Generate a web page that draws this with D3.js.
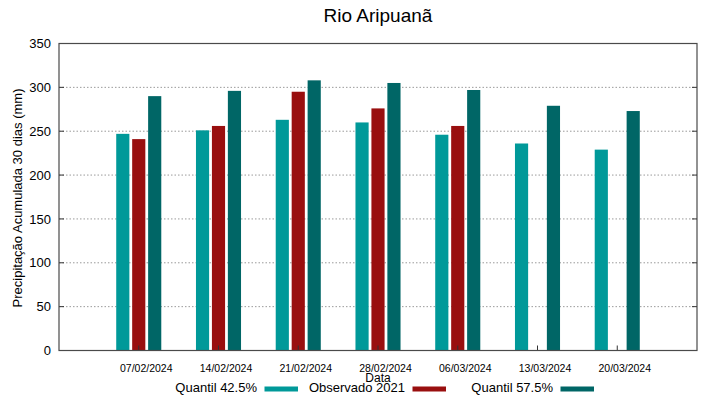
<!DOCTYPE html>
<html>
<head>
<meta charset="utf-8">
<script src="https://cdn.jsdelivr.net/npm/d3@7"></script>
<style>
  body { margin: 0; background: #fff; }
  text { font-family: "Liberation Sans", Arial, sans-serif; fill: #000; }
</style>
</head>
<body>
<div id="chart"></div>
<script>
// data
var dates = ["07/02/2024", "14/02/2024", "21/02/2024", "28/02/2024", "06/03/2024", "13/03/2024", "20/03/2024"];
var quantil425 = [247, 251, 263, 260, 246, 236, 229];
var observado2021 = [241, 256, 295, 276, 256, null, null];
var quantil575 = [290, 296, 308, 305, 297, 279, 273];
var yTicks = [0, 50, 100, 150, 200, 250, 300, 350];
var seriesNames = ["Quantil 42.5%", "Observado 2021", "Quantil 57.5%"];
var seriesColors = ["#009999", "#990f0f", "#006666"];

// dimensions of the plot area
var margin = {top: 43.5, right: 22, bottom: 48.5, left: 59},
    width = 719 - margin.left - margin.right,
    height = 399 - margin.top - margin.bottom;

var svg = d3.select("#chart")
  .append("svg")
    .attr("width", 719)
    .attr("height", 399)
  .append("g")
    .attr("transform", "translate(" + margin.left + "," + margin.top + ")");

// scales
var x = d3.scaleLinear()
  .domain([0, dates.length + 1])
  .range([0, width]);

var y = d3.scaleLinear()
  .domain([0, 350])
  .range([height, 0]);

// dotted grid lines
svg.append("g")
  .selectAll("line")
  .data(yTicks.slice(1, -1))
  .enter()
  .append("line")
    .attr("x1", 0)
    .attr("x2", width)
    .attr("y1", function(d) { return y(d); })
    .attr("y2", function(d) { return y(d); })
    .style("stroke", "#9a9a9a")
    .style("stroke-width", 1)
    .style("stroke-dasharray", "1.5,2");

// bars, one series after the other
var series = [quantil425, observado2021, quantil575];
var barW = x(0.165) - x(0);

series.forEach(function(vals, s) {
  var rows = dates.map(function(d, i) { return {i: i, v: vals[i]}; })
    .filter(function(r) { return r.v != null; });
  svg.append("g")
    .selectAll("rect")
    .data(rows)
    .enter()
    .append("rect")
      .attr("x", function(r) { return x(r.i + 1 + (s - 1) * 0.2) - barW / 2; })
      .attr("y", function(r) { return y(r.v); })
      .attr("width", barW)
      .attr("height", function(r) { return height - y(r.v); })
      .attr("fill", seriesColors[s]);
});

// x ticks (small, inward) and labels
var xg = svg.append("g");
xg.selectAll("line")
  .data(dates)
  .enter()
  .append("line")
    .attr("x1", function(d, i) { return x(i + 1); })
    .attr("x2", function(d, i) { return x(i + 1); })
    .attr("y1", height)
    .attr("y2", height - 5)
    .style("stroke", "#333")
    .style("stroke-width", 1);
xg.selectAll("text")
  .data(dates)
  .enter()
  .append("text")
    .attr("x", function(d, i) { return x(i + 1) + 7.5; })
    .attr("y", height + 21.5)
    .attr("text-anchor", "middle")
    .style("font-size", "10.5px")
    .text(function(d) { return d; });

// y ticks on both sides and labels
var yg = svg.append("g");
yg.selectAll("line.l")
  .data(yTicks)
  .enter()
  .append("line")
    .attr("x1", 0)
    .attr("x2", 5)
    .attr("y1", function(d) { return y(d); })
    .attr("y2", function(d) { return y(d); })
    .style("stroke", "#333");
yg.selectAll("line.r")
  .data(yTicks)
  .enter()
  .append("line")
    .attr("x1", width - 5)
    .attr("x2", width)
    .attr("y1", function(d) { return y(d); })
    .attr("y2", function(d) { return y(d); })
    .style("stroke", "#333");
yg.selectAll("text")
  .data(yTicks)
  .enter()
  .append("text")
    .attr("x", -8)
    .attr("y", function(d) { return y(d); })
    .attr("dy", "0.36em")
    .attr("text-anchor", "end")
    .style("font-size", "13px")
    .text(function(d) { return d; });

// frame
svg.append("rect")
  .attr("x", 0)
  .attr("y", 0)
  .attr("width", width)
  .attr("height", height)
  .style("fill", "none")
  .style("stroke", "#4a4a4a")
  .style("stroke-width", 1.2);

// titles
svg.append("text")
  .attr("x", width / 2)
  .attr("y", 22 - margin.top)
  .attr("text-anchor", "middle")
  .style("font-size", "19px")
  .text("Rio Aripuanã");

svg.append("text")
  .attr("x", width / 2)
  .attr("y", height + 31.5)
  .attr("text-anchor", "middle")
  .style("font-size", "12px")
  .text("Data");

svg.append("text")
  .attr("transform", "translate(" + (21.5 - margin.left) + "," + (height / 2 + 1) + ")rotate(-90)")
  .attr("text-anchor", "middle")
  .style("font-size", "13px")
  .text("Precipitação Acumulada 30 dias (mm)");

// legend (text right aligned before the sample)
var legendX = [257, 405, 553];
var legend = d3.select("svg").append("g");
seriesNames.forEach(function(name, s) {
  legend.append("text")
    .attr("x", legendX[s])
    .attr("y", 392)
    .attr("text-anchor", "end")
    .style("font-size", "13px")
    .text(name);
  legend.append("rect")
    .attr("x", legendX[s] + 7.5)
    .attr("y", 386.5)
    .attr("width", 33.5)
    .attr("height", 5)
    .attr("fill", seriesColors[s]);
});
</script>
</body>
</html>
